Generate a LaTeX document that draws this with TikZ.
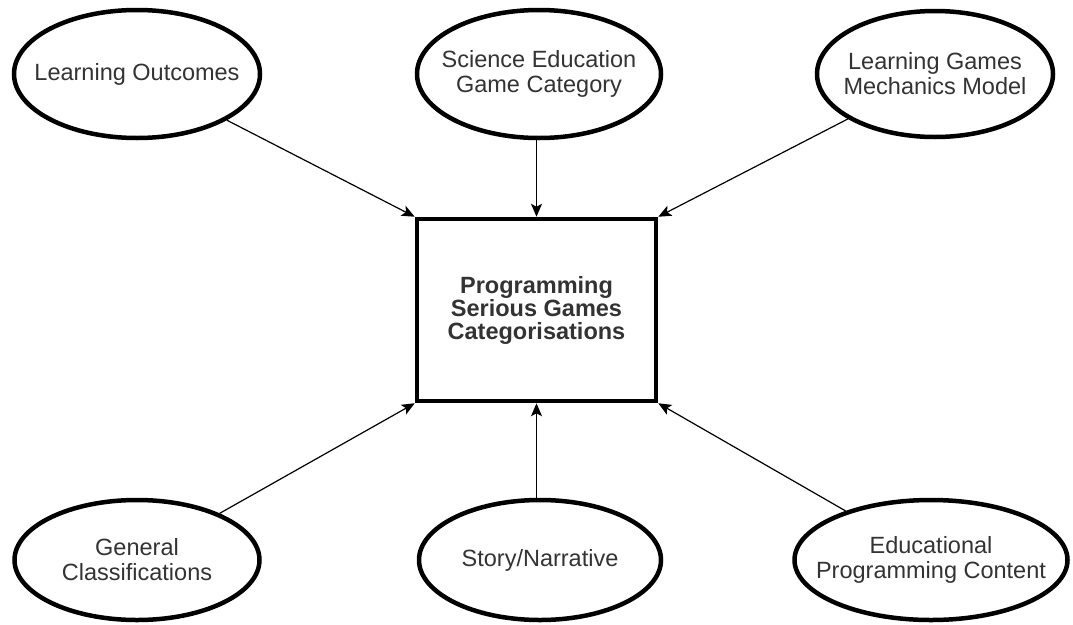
\documentclass[tikz,border=0pt]{standalone}
\usepackage{fontspec}
\setmainfont{Liberation Sans}
\usetikzlibrary{shapes.geometric,arrows.meta}
\definecolor{txt}{HTML}{333333}
\begin{document}
\begin{tikzpicture}[x=1pt,y=-1pt,
  oval/.style={ellipse,draw=black,line width=4.5pt,fill=white,inner sep=0pt},
  ovaltext/.style={text=txt,align=center,inner sep=0pt,font=\fontsize{23.5}{25}\selectfont},
  centerbox/.style={rectangle,draw=black,line width=4.5pt,fill=white,inner sep=0pt,
    text=txt,align=center,font=\fontsize{23.5}{23}\selectfont\bfseries},
  link/.style={draw=black,line width=1.2pt,-{Stealth[length=13pt,width=11pt,inset=3pt]}}]
\useasboundingbox (0,0) rectangle (1073,624);
\node[centerbox,minimum width=239pt,minimum height=182pt] (pc) at (536.5,310)
  {Programming\\Serious Games\\Categorisations};
\node[oval,minimum width=246pt,minimum height=128pt,label={[ovaltext]center:{Learning Outcomes}}] (lo) at (137,74) {};
\node[oval,minimum width=244pt,minimum height=128pt,label={[ovaltext]center:{Science Education\\Game Category}}] (se) at (539,74) {};
\node[oval,minimum width=236pt,minimum height=126pt,label={[ovaltext]center:{Learning Games\\Mechanics Model}}] (lg) at (935,74) {};
\node[oval,minimum width=245pt,minimum height=120pt,label={[ovaltext]center:{General\\Classifications}}] (gc) at (137,560) {};
\node[oval,minimum width=242pt,minimum height=120pt,label={[ovaltext]center:{Story/Narrative}}] (sn) at (540,560) {};
\node[oval,minimum width=273pt,minimum height=120pt,label={[ovaltext]center:{Educational\\Programming Content}}] (ep) at (931,560) {};
\draw[link] (lo) -- (pc.north west);
\draw[link] (se.south -| pc.north) -- (pc.north);
\draw[link] (lg) -- (pc.north east);
\draw[link] (gc) -- (pc.south west);
\draw[link] (sn.north -| pc.south) -- (pc.south);
\draw[link] (ep) -- (pc.south east);
\end{tikzpicture}
\end{document}
